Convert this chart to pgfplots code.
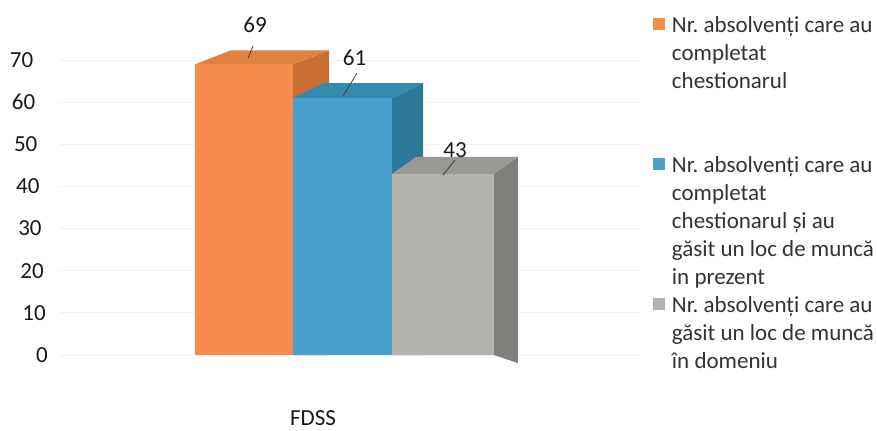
\documentclass[border=0pt]{standalone}
\usepackage{pgfplots}
\pgfplotsset{compat=1.18}
\usepackage{fontspec}
\setmainfont{Carlito}
\frenchspacing

% front / top / side colours of the three boxes
\definecolor{orF}{HTML}{F48C4C}
\definecolor{orT}{HTML}{DE8242}
\definecolor{orS}{HTML}{C96F31}
\definecolor{blF}{HTML}{4AA0CC}
\definecolor{blT}{HTML}{348BAE}
\definecolor{blS}{HTML}{2B7898}
\definecolor{grF}{HTML}{B2B2AE}
\definecolor{grT}{HTML}{989894}
\definecolor{grS}{HTML}{7F7F7C}

\pgfplotsset{
  % legend text is anchored on its last line, so lift the square to the first line
  sq/.style 2 args={legend image code/.code={\fill[#1] (0pt,#2+2pt) rectangle (12pt,#2+14pt);}},
  lbl/.style 2 args={nodes near coords,
    every node near coord/.style={anchor=center, inner sep=0pt, xshift=#1, yshift=#2, text=black!90}},
}

\begin{document}
\begin{tikzpicture}[font=\fontsize{23}{28}\selectfont]
\begin{axis}[
  width=877pt, height=430pt, scale only axis,
  xmin=0, xmax=877, ymin=-17.8, ymax=84.24,
  axis line style={draw=none},
  major tick length=0pt,
  /pgf/number format/assume math mode=true,
  ytick={0,10,...,70},
  yticklabel style={anchor=east, inner sep=0pt, text=black!90, xshift={(48-0.21*\tick)*1pt}},
  xtick={313}, xticklabels={FDSS},
  xticklabel style={anchor=base, inner sep=0pt, yshift=5pt, text=black!90},
  legend style={at={(rel axis cs:0.7446,0.9712)}, anchor=north west,
    draw=none, fill=none, inner sep=0pt, outer sep=0pt,
    row sep=7pt, column sep=7pt, cells={anchor=base west},
    nodes={align=left, inner sep=0pt, text=black!80}},
]
% faint back grid
\pgfplotsinvokeforeach{0,10,...,70}{
  \draw[black!5, line width=1pt] (axis cs:60,#1) -- (axis cs:640,#1);
}

% orange box
\addplot[fill=orS, draw=none, forget plot] coordinates {(293,0) (293,69) (329,72.32) (329,0)};
\addplot[fill=orT, draw=none, forget plot] coordinates {(195,69) (293,69) (329,72.32) (231,72.32)};
\addplot[ybar, bar width=98, bar shift=0pt, fill=orF, draw=none, sq={orF}{112pt}, lbl={11pt}{39pt}]
  coordinates {(244,69)};
\addlegendentry{\strut Nr. absolvenți care au\\completat\\chestionarul\\\strut\\\strut}

% blue box
\addplot[fill=blS, draw=none, forget plot] coordinates {(392,0) (392,61) (423,64.56) (423,0)};
\addplot[fill=blT, draw=none, forget plot] coordinates {(293,61) (392,61) (423,64.56) (324,64.56)};
\addplot[ybar, bar width=99, bar shift=0pt, fill=blF, draw=none, sq={blF}{112pt}, lbl={12pt}{40pt}]
  coordinates {(342.5,61)};
\addlegendentry{\strut Nr. absolvenți care au\\completat\\chestionarul și au\\găsit un loc de muncă\\in prezent\strut}

% grey box
\addplot[fill=grS, draw=none, forget plot] coordinates {(494,0) (494,43) (518,47.03) (518,-1.9)};
\addplot[fill=grT, draw=none, forget plot] coordinates {(392,43) (494,43) (518,47.03) (416,47.03)};
\addplot[ybar, bar width=102, bar shift=0pt, fill=grF, draw=none, sq={grF}{56pt}, lbl={12pt}{24pt}]
  coordinates {(443,43)};
\addlegendentry{\strut Nr. absolvenți care au\\găsit un loc de muncă\\în domeniu\strut}

% leader lines of the value labels
\draw[black!75, line width=0.8pt] (axis cs:253,73.33) -- (axis cs:248,70.48);
\draw[black!75, line width=0.8pt] (axis cs:357,66.92) -- (axis cs:343,61.46);
\draw[black!75, line width=0.8pt] (axis cs:455,46.27) -- (axis cs:443,42.71);
\end{axis}
\end{tikzpicture}
\end{document}
